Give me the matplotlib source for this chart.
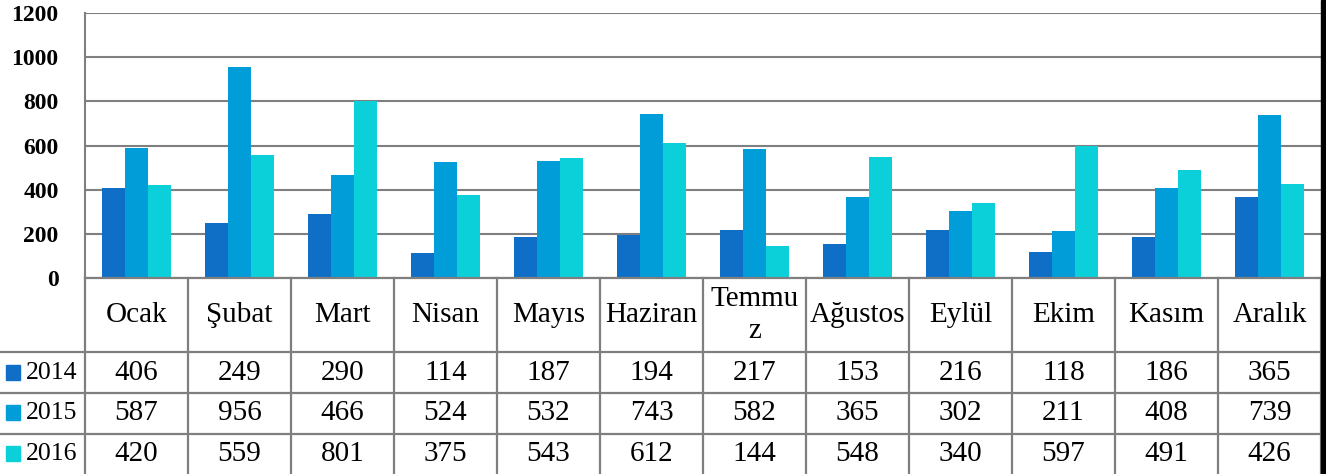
import numpy as np
import matplotlib.pyplot as plt
from matplotlib.patches import Rectangle

plt.rcParams['font.family'] = ['Liberation Serif', 'DejaVu Serif']

months = ['Ocak', 'Şubat', 'Mart', 'Nisan', 'Mayıs', 'Haziran', 'Temmu\nz',
          'Ağustos', 'Eylül', 'Ekim', 'Kasım', 'Aralık']
years = ['2014', '2015', '2016']
v2014 = [406, 249, 290, 114, 187, 194, 217, 153, 216, 118, 186, 365]
v2015 = [587, 956, 466, 524, 532, 743, 582, 365, 302, 211, 408, 739]
v2016 = [420, 559, 801, 375, 543, 612, 144, 548, 340, 597, 491, 426]
yticks = [0, 200, 400, 600, 800, 1000, 1200]

colors = ['#0F6FC6', '#009DD9', '#0BD0D9']
grid_c = '#7f7f7f'

W, H = 1326, 474
fig = plt.figure(figsize=(W / 100, H / 100), dpi=100)

# pixel layout
x0, x1 = 85, 1321
y_top, y_axis = 13, 278
ax = fig.add_axes([x0 / W, (H - y_axis) / H, (x1 - x0) / W, (y_axis - y_top) / H])

n = len(months)
x = np.arange(n)
bw = 0.223
series = [v2014, v2015, v2016]
for k, vals in enumerate(series):
    ax.bar(x + (k - 1) * bw, vals, bw, color=colors[k], zorder=3,
           edgecolor='none')

ax.set_xlim(-0.5, n - 0.5)
ax.set_ylim(0, 1200)
ax.set_yticks(yticks)
ax.set_yticklabels([str(t) for t in yticks], fontsize=17, fontweight='bold')
ax.tick_params(axis='y', length=0, pad=19)
ax.tick_params(axis='x', length=0, labelbottom=False)
ax.yaxis.grid(True, color=grid_c, lw=1.5, zorder=0)
for s in ['top', 'right', 'bottom']:
    ax.spines[s].set_visible(False)
ax.spines['left'].set_color(grid_c)
ax.spines['left'].set_linewidth(1.5)

# data table below
tab = fig.add_axes([x0 / W, 0, (x1 - x0) / W, (H - y_axis) / H])
tab.set_xlim(-0.5, n - 0.5)
tab.set_ylim(H - y_axis, 0)
tab.axis('off')

row_lines = [0, 74, 115, 156]
left_ext = -0.5 - x0 / 103.0
for j, yl in enumerate(row_lines):
    xs = -0.5 if j == 0 else left_ext
    tab.plot([xs, n - 0.5], [yl, yl], color=grid_c, lw=1.6, clip_on=False)
for i in range(n + 1):
    tab.plot([i - 0.5, i - 0.5], [0, H - y_axis], color=grid_c, lw=1.6,
             clip_on=False)

for i, m in enumerate(months):
    tab.text(i, 37, m, ha='center', va='center', fontsize=21,
             linespacing=1.3)
row_mid = [95, 135, 176]
cw_px = 103.0
for k, vals in enumerate(series):
    for i, v in enumerate(vals):
        tab.text(i, row_mid[k], str(v), ha='center', va='center', fontsize=21)
    # legend key + year
    tab.add_patch(Rectangle((left_ext + 6 / cw_px, row_mid[k] - 8), 14 / cw_px, 15,
                            color=colors[k], clip_on=False))
    tab.text(left_ext + 26 / cw_px, row_mid[k], years[k], ha='left',
             va='center', fontsize=18.5)

# dark right edge
fig.add_artist(Rectangle((1321 / W, 0), 5 / W, 1, transform=fig.transFigure,
                         color='black'))

fig.savefig('out.png', dpi=100)
